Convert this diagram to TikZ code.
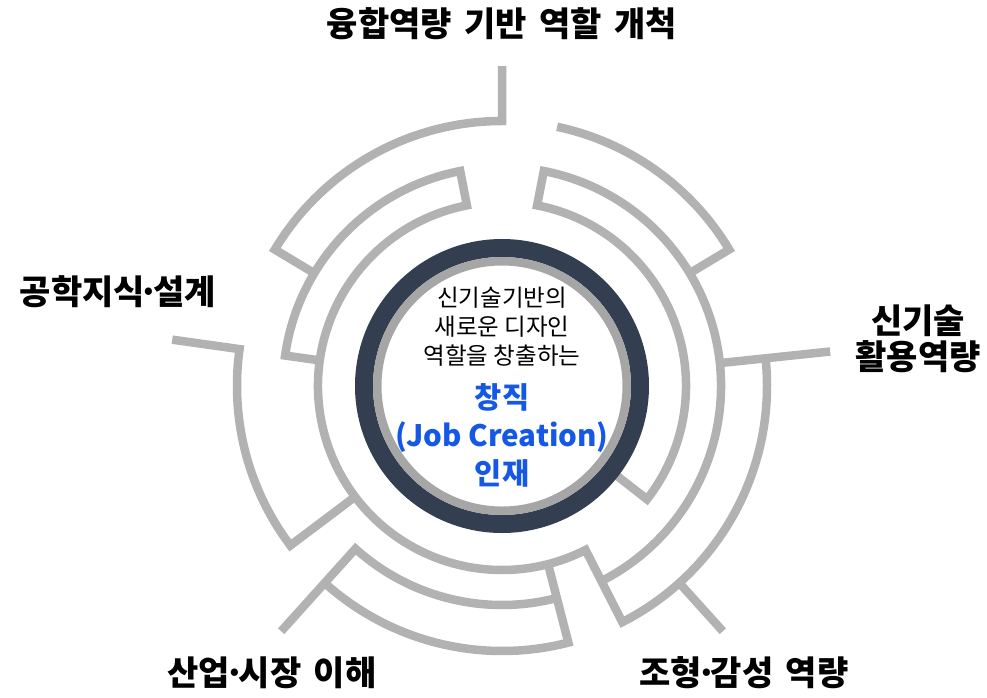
\documentclass[tikz,border=0pt]{standalone}
\usepackage{fontspec}
\setmainfont{Noto Sans CJK KR}
\newfontfamily\goalfont[WordSpace=1.6]{Noto Sans CJK KR}
\usetikzlibrary{positioning}
\definecolor{mazegray}{RGB}{178,178,178}
\definecolor{ringgray}{RGB}{166,166,166}
\definecolor{ringdark}{RGB}{51,63,80}
\definecolor{jobblue}{RGB}{21,88,230}
\tikzstyle{wall}=[draw=mazegray,line width=8.5pt]
\tikzstyle{goal}=[font=\goalfont\bfseries\fontsize{34}{36}\selectfont,align=center]
\tikzstyle{lead}=[font=\fontsize{23.5}{29}\selectfont,align=center]
\tikzstyle{jobtext}=[font=\bfseries\fontsize{29.5}{38}\selectfont,align=center,text=jobblue]
\def\rin{184}
\def\rmid{219}
\def\rout{265}
\def\rtip{330}
\def\mdot{\kern-.18em·\kern-.18em}

\begin{document}
\begin{tikzpicture}[x=1pt,y=1pt]
\useasboundingbox (-502,-311) rectangle (485,386);
% maze walls
\draw[wall] (172:\rin) -- (172:\rmid) arc[start angle=172,end angle=101,radius=\rmid]
  -- (101:\rin) arc[start angle=101,end angle=297,radius=\rin]
  -- (297:\rout) arc[start angle=297,end angle=366,radius=\rout];
\draw[wall] (-63:\rmid) arc[start angle=-63,end angle=79,radius=\rmid]
  -- (79:\rin) arc[start angle=79,end angle=-38,radius=\rin] -- (-38:140);
\draw[wall] (31:\rmid) -- (31:\rout) arc[start angle=31,end angle=78,radius=\rout];
\draw[wall] (90:320) -- (90:\rout) arc[start angle=90,end angle=149,radius=\rout] -- (149:\rmid);
\draw[wall] (6:\rmid) -- (6:\rtip);
\draw[wall] (172:333) -- (172:\rout) arc[start angle=172,end angle=217,radius=\rout] -- (217:\rin);
\draw[wall] (228:\rtip) -- (228:\rmid) arc[start angle=228,end angle=284.5,radius=\rmid];
\draw[wall] (284.5:\rin) -- (284.5:\rout) arc[start angle=284.5,end angle=228,radius=\rout];
\draw[wall] (312:\rout) -- (312:\rtip);
% centre rings
\draw[ringdark,line width=18pt] (0,0) circle[radius=138];
\draw[ringgray,line width=8.5pt] (0,0) circle[radius=124.75];
% texts
\node[lead] (idea) at (0,59) {신기술기반의\\새로운 디자인\\역할을 창출하는};
\node[jobtext] (job) at (0,-49) {창직\\(Job Creation)\\인재};
\node[goal] (fusion) at (0,362) {융합역량 기반 역할 개척};
\node[goal] (eng) at (-384,94) {공학지식\mdot 설계};
\node[goal] (tech) at (416,47) {신기술\\활용역량};
\node[goal] (market) at (-230,-287) {산업\mdot 시장 이해};
\node[goal] (form) at (242,-287) {조형\mdot 감성 역량};
\end{tikzpicture}
\end{document}
